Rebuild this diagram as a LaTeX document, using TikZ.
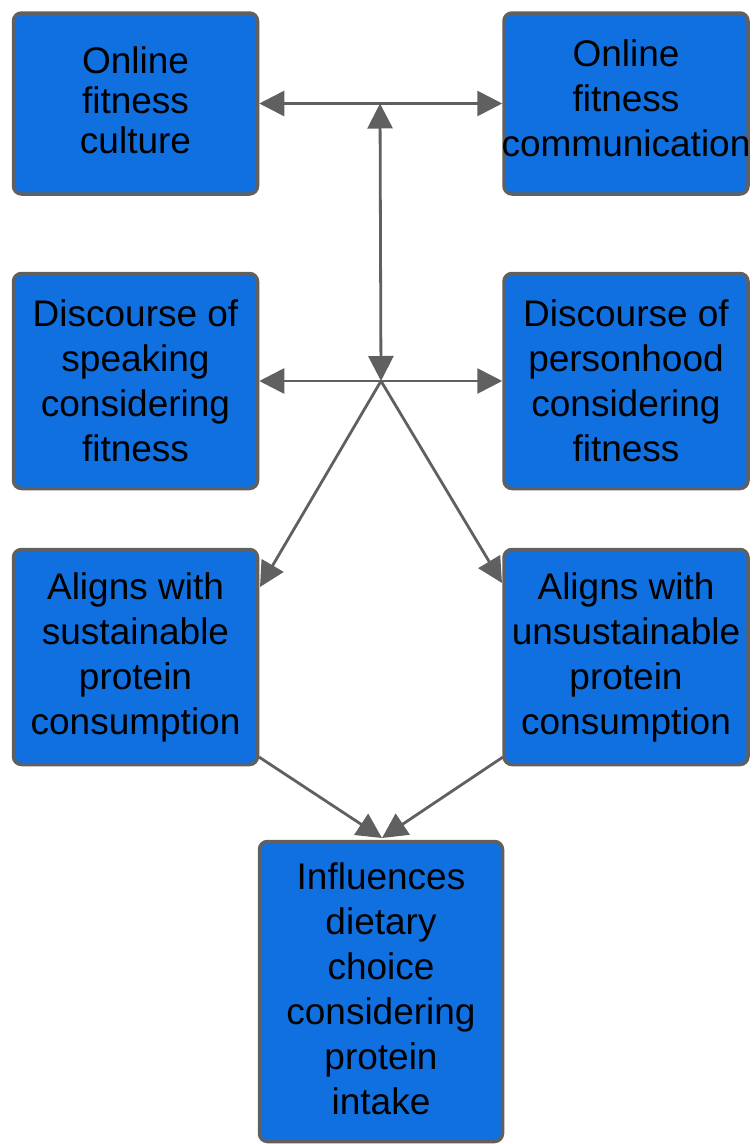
\documentclass[tikz,border=0pt]{standalone}
\usepackage{fontspec}
\setmainfont{Liberation Sans}
\usetikzlibrary{arrows.meta}
\definecolor{boxblue}{RGB}{17,112,224}
\definecolor{edgegray}{RGB}{96,96,96}
\begin{document}
\begin{tikzpicture}[x=1pt,y=-1pt,
  box/.style={draw=edgegray, line width=3.5pt, fill=boxblue, rounded corners=8pt,
    minimum width=244pt, align=center, inner sep=0pt, text=black,
    font=\fontsize{37}{45}\selectfont},
  boxtext/.style={align=center, inner sep=0pt, text=black, font=\fontsize{37}{45}\selectfont},
  conn/.style={draw=edgegray, line width=2.8pt, {Triangle[length=25pt,width=25pt]}-{Triangle[length=25pt,width=25pt]}},
  arr/.style={draw=edgegray, line width=2.8pt, -{Triangle[length=25pt,width=25pt]}}]
\useasboundingbox (0,0) rectangle (753,1144);
\node[box, minimum height=181pt] (A) at (135.5,103.5) {};
\node[boxtext, font=\fontsize{37}{40}\selectfont] (At) at (135.5,100.5) {Online\\fitness\\culture};
\node[box, minimum height=181pt] (B) at (626,103.5) {};
\node[boxtext] (Bt) at (626,98.5) {Online\\fitness\\communication};
\node[box, minimum height=215pt] (C) at (135.5,381) {Discourse of\\speaking\\considering\\fitness};
\node[box, minimum height=215pt] (D) at (626,381) {Discourse of\\personhood\\considering\\fitness};
\node[box, minimum height=215pt] (E) at (135.5,657) {Aligns with\\sustainable\\protein\\consumption};
\node[box, minimum height=215pt] (F) at (626,657) {Aligns with\\unsustainable\\protein\\consumption};
\node[box, minimum width=243pt, minimum height=300pt] (G) at (381,991.5) {};
\node[boxtext] (Gt) at (381,988.5) {Influences\\dietary\\choice\\considering\\protein\\intake};
\coordinate (j1) at (380,103.5);
\coordinate (j2) at (381,381);
\coordinate (eTip) at (260,587);
\coordinate (fTip) at (502,583);
\coordinate (eStart) at (259,757);
\coordinate (fStart) at (503,757);
\coordinate (gTip) at (382,838);
\draw[conn] (A.east) -- (B.west);
\draw[conn] (j1) -- (j2);
\draw[conn] (C.east) -- (D.west);
\draw[arr] (j2) -- (eTip);
\draw[arr] (j2) -- (fTip);
\draw[arr] (eStart) -- (gTip);
\draw[arr] (fStart) -- (gTip);
\end{tikzpicture}
\end{document}
